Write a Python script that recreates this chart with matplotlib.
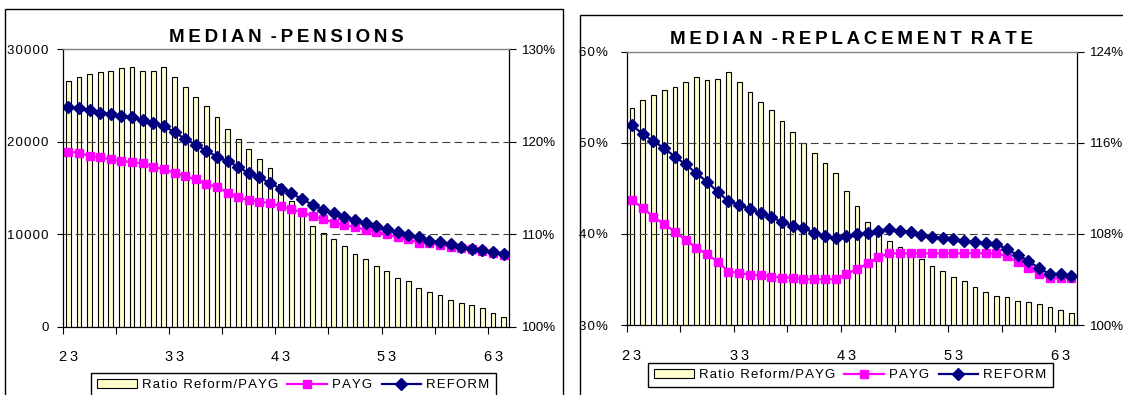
import numpy as np
import matplotlib
matplotlib.use("Agg")
import matplotlib.pyplot as plt
from matplotlib.patches import Rectangle
from matplotlib.lines import Line2D

plt.rcParams['font.family'] = ['Liberation Sans', 'DejaVu Sans']

# ages 23..64
ages = list(range(23, 65))

# pensions panel: ratio reform/payg (%) and median pensions
pens_ratio = [126.5, 127.0, 127.3, 127.5, 127.65, 127.9, 128.1, 127.65, 127.65, 128.1,
              127.0, 125.85, 124.8, 123.8, 122.7, 121.4, 120.3, 119.2, 118.1, 117.1,
              115.4, 113.6, 112.1, 110.9, 110.1, 109.5, 108.7, 107.9, 107.3, 106.6,
              106.0, 105.3, 104.9, 104.2, 103.75, 103.4, 102.85, 102.6, 102.3, 102.0,
              101.5, 101.05]
pens_payg = [18900, 18800, 18430, 18290, 18070, 17930, 17750, 17640, 17280, 17000,
             16630, 16270, 15920, 15410, 15120, 14470, 13970, 13680, 13500, 13350,
             13030, 12700, 12380, 11950, 11620, 11250, 10960, 10800, 10440, 10260,
             9980, 9650, 9440, 9070, 9000, 8820, 8640, 8530, 8360, 8170,
             7990, 7740]
pens_reform = [23760, 23580, 23400, 23100, 22930, 22800, 22600, 22300, 22000, 21700,
               21000, 20300, 19650, 19000, 18360, 17860, 17280, 16560, 16130, 15500,
               14900, 14400, 13790, 13170, 12640, 12300, 11880, 11560, 11160, 10870,
               10550, 10190, 9940, 9720, 9290, 9110, 8930, 8640, 8420, 8280,
               8030, 7850]

# replacement rate panel
repl_ratio = [119.08, 119.73, 120.19, 120.6, 120.87, 121.36, 121.74, 121.48, 121.6, 122.24,
              121.36, 120.48, 119.6, 118.85, 117.94, 116.92, 116.0, 115.13, 114.25, 113.37,
              111.8, 110.45, 109.04, 107.9, 107.4, 106.88, 106.29, 105.77, 105.21, 104.74,
              104.21, 103.86, 103.31, 102.93, 102.58, 102.43, 102.08, 102.05, 101.82, 101.55,
              101.32, 101.03]
repl_payg = [43.7, 42.85, 41.89, 41.05, 40.24, 39.33, 38.49, 37.76, 36.95, 35.85,
             35.74, 35.49, 35.49, 35.3, 35.19, 35.19, 35.02, 35.02, 35.02, 35.02,
             35.63, 36.11, 36.77, 37.43, 37.87, 37.87, 37.87, 37.87, 37.87, 37.87,
             37.87, 37.87, 37.87, 37.87, 37.87, 37.57, 36.88, 36.22, 35.6, 35.13,
             35.13, 35.13]
repl_reform = [51.9, 50.97, 50.16, 49.4, 48.48, 47.64, 46.65, 45.73, 44.6, 43.6,
               43.2, 42.73, 42.26, 41.85, 41.3, 40.9, 40.61, 40.13, 39.77, 39.51,
               39.73, 39.99, 40.06, 40.35, 40.54, 40.32, 40.17, 39.88, 39.7, 39.51,
               39.4, 39.22, 39.08, 38.97, 38.89, 38.31, 37.68, 37.03, 36.22, 35.6,
               35.6, 35.41]

pens_left_ticks = [0, 10000, 20000, 30000]
pens_right_ticks = [100, 110, 120, 130]
repl_left_ticks = [30, 40, 50, 60]
repl_right_ticks = [100, 108, 116, 124]

legend_labels = ["Ratio Reform/PAYG", "PAYG", "REFORM"]

BAR_COLOR = "#FFFFCC"
PAYG_COLOR = "#FF00FF"
REFORM_COLOR = "#000080"

W, H = 1123, 395
fig = plt.figure(figsize=(W / 100, H / 100), dpi=100)


def spaced(s, sep="\u200a"):
    # loose letter spacing like the old spreadsheet fonts
    return sep.join(s)


def title_text(*words):
    return " \u2009".join(spaced(w, "\u2009") for w in words)


def add_axes_px(x0, y0, x1, y1):
    return fig.add_axes([x0 / W, 1 - y1 / H, (x1 - x0) / W, (y1 - y0) / H])


def draw_panel(box, title, bars, payg, reform, lticks, llabels, rticks, lpad, legend_pos):
    idx = np.arange(len(ages))
    ax = add_axes_px(*box)
    ax2 = ax.twinx()
    ax.set_zorder(ax2.get_zorder() + 1)
    ax.patch.set_visible(False)

    ax2.bar(idx, bars, width=0.45, color=BAR_COLOR, edgecolor="black", linewidth=0.8)
    ax2.set_ylim(rticks[0], rticks[-1])
    ax2.set_yticks(rticks)
    ax2.set_yticklabels([f"{t}%" for t in rticks])

    for t in lticks[1:-1]:
        ax.axhline(t, color="#404040", lw=0.8, ls=(0, (7, 4)), zorder=0)
    ax.plot(idx, payg, color=PAYG_COLOR, marker="s", ms=6, lw=1.6)
    ax.plot(idx, reform, color=REFORM_COLOR, marker="D", ms=6.5, lw=1.6)
    ax.set_ylim(lticks[0], lticks[-1])
    ax.set_yticks(lticks)
    ax.set_yticklabels([spaced(l) for l in llabels])
    ax.set_xlim(-0.5, len(ages) - 0.5)

    # tick marks between categories, labels every ten years
    ax.set_xticks(np.arange(-0.5, len(ages), 5))
    ax.set_xticklabels([])
    ax.set_xticks(idx[::10], minor=True)
    ax.set_xticklabels([spaced(str(ages[i]), "\u2009") for i in idx[::10]], minor=True)
    ax.tick_params(axis="x", which="major", direction="out", length=5, width=0.8)
    ax.tick_params(axis="x", which="minor", length=0, labelsize=10.5, pad=17)
    ax.tick_params(axis="y", direction="out", length=4, width=0.8, labelsize=9.5, pad=lpad)
    ax2.tick_params(axis="y", direction="out", length=5, width=0.8, labelsize=9.5, pad=4.5)

    for s in ["left", "bottom"]:
        ax.spines[s].set_linewidth(0.9)
    ax.spines["right"].set_visible(False)
    ax.spines["top"].set_color("#808080")
    ax.spines["top"].set_linewidth(1.0)
    for s in ["top", "left", "bottom"]:
        ax2.spines[s].set_visible(False)
    ax2.spines["right"].set_linewidth(0.9)

    cx = (box[0] + box[2]) / 2
    fig.text(cx / W, 1 - (box[1] - 12) / H, title, ha="center", va="center",
             fontsize=13.5, fontweight="bold")

    handles = [
        Rectangle((0, 0), 1, 1, facecolor=BAR_COLOR, edgecolor="black", linewidth=0.8),
        Line2D([], [], color=PAYG_COLOR, marker="s", ms=6, lw=1.6),
        Line2D([], [], color=REFORM_COLOR, marker="D", ms=6.5, lw=1.6),
    ]
    leg = fig.legend(handles, [spaced(l) for l in legend_labels], loc="upper left",
                     bbox_to_anchor=(legend_pos[0] / W, 1 - legend_pos[1] / H),
                     ncol=3, fontsize=9.5, frameon=True, fancybox=False,
                     edgecolor="black", handlelength=3.0, handletextpad=0.4,
                     columnspacing=0.7, borderpad=0.45, borderaxespad=0)
    leg.get_frame().set_linewidth(1.0)
    leg.get_frame().set_alpha(1)
    return ax, ax2


draw_panel((63, 49, 509, 326.7), title_text("MEDIAN", "-PENSIONS"),
           pens_ratio, pens_payg, pens_reform,
           pens_left_ticks, [str(t) for t in pens_left_ticks], pens_right_ticks, 6.5,
           (91, 373))
draw_panel((626.7, 51.7, 1076.7, 325), title_text("MEDIAN", "-REPLACEMENT", "RATE"),
           repl_ratio, repl_payg, repl_reform,
           repl_left_ticks, [f"{t}%" for t in repl_left_ticks], repl_right_ticks, 9.5,
           (648, 363))

# chart area borders
fig.add_artist(Rectangle((5 / W, -0.1), (563 - 5) / W, 1.1 - 9 / H, transform=fig.transFigure,
                         fill=False, edgecolor="black", linewidth=1))
fig.add_artist(Rectangle((580 / W, -0.1), (1140 - 580) / W, 1.1 - 15 / H, transform=fig.transFigure,
                         fill=False, edgecolor="black", linewidth=1))

fig.savefig("out.png", dpi=100)
